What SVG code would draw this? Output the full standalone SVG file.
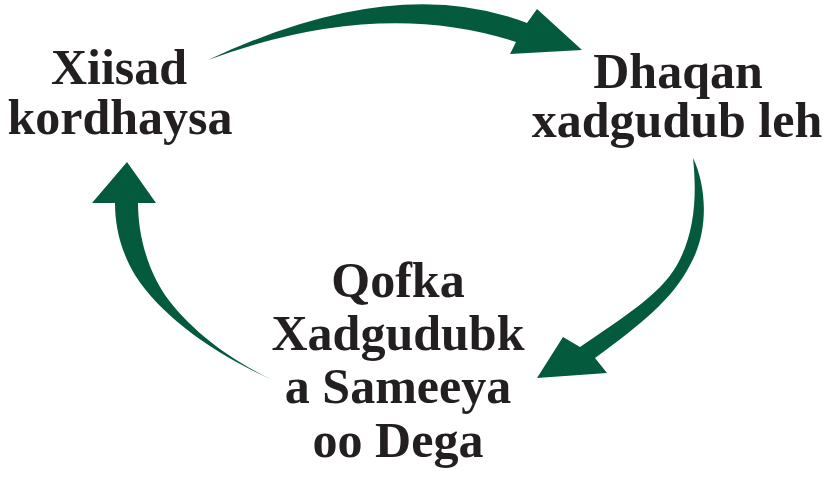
<svg xmlns="http://www.w3.org/2000/svg" width="835" height="480" viewBox="0 0 835 480">
<style>
.lbl{font-family:"Liberation Serif","Times New Roman",serif;font-weight:bold;font-size:50px;fill:#231f20;text-anchor:middle}
.arr{fill:#045a3c;stroke:none}
</style>
<rect width="835" height="480" fill="#ffffff"/>
<g id="connectors">
<path class="arr" d="M208,60 Q395,-28 527,23 L537,9 L582,50 L510,54 L516,42 Q378,-3 208,60 Z"/>
<path class="arr" d="M693,158 C706,185 710,230 690,265 C672,300 640,325 595,358 L607,373 L537,378 L563,337 L580,347 C622,318 660,295 677,265 C695,233 697,195 693,158 Z"/>
<path class="arr" d="M273,380 C215,355 160,315 135,275 C120,250 115,225 115,203 L92,203 L127,162 L156,203 L138,203 C138,230 145,265 165,295 C190,330 230,360 273,380 Z"/>
</g>
<g id="node-xiisad">
<text class="lbl" x="119" y="84">Xiisad</text>
<text class="lbl" x="120" y="134">kordhaysa</text>
</g>
<g id="node-dhaqan">
<text class="lbl" x="678" y="88">Dhaqan</text>
<text class="lbl" x="677" y="137">xadgudub leh</text>
</g>
<g id="node-qofka">
<text class="lbl" x="398" y="297">Qofka</text>
<text class="lbl" x="398" y="350">Xadgudubk</text>
<text class="lbl" x="398" y="403">a Sameeya</text>
<text class="lbl" x="398" y="457">oo Dega</text>
</g>
</svg>
